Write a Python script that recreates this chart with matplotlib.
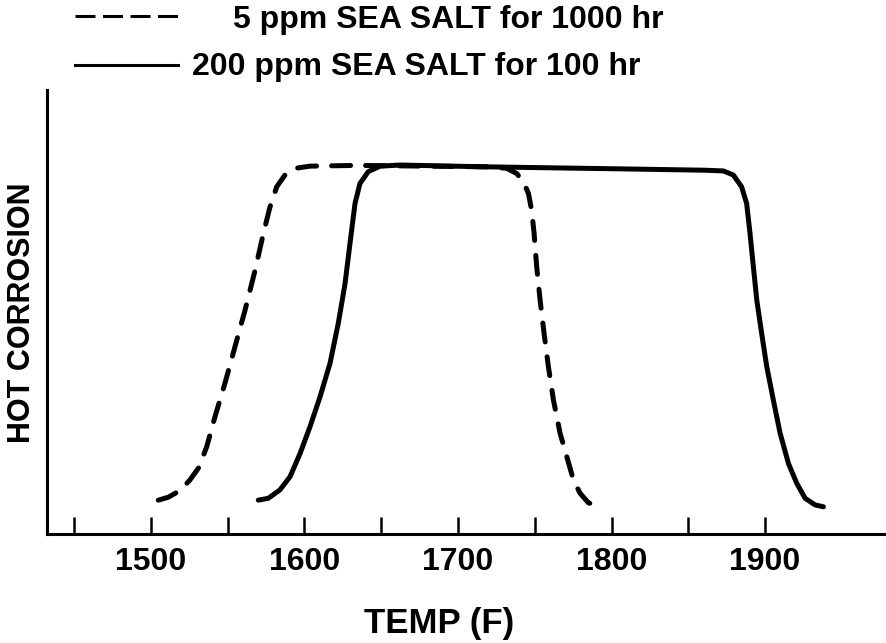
import matplotlib
matplotlib.use("Agg")
import matplotlib.pyplot as plt
from matplotlib.lines import Line2D

# ---- data ----
label_5ppm = "5 ppm SEA SALT for 1000 hr"
label_200ppm = "200 ppm SEA SALT for 100 hr"

temp_5ppm = [1504.9, 1511.4, 1519.0, 1525.5, 1531.0, 1536.4, 1541.8, 1548.3,
             1554.8, 1561.4, 1567.9, 1573.3, 1577.6, 1582.0, 1587.4, 1593.9,
             1603.7, 1634.1, 1680.0, 1720.9, 1731.8, 1738.3, 1742.6, 1745.9,
             1748.0, 1749.6, 1751.3, 1753.5, 1756.1, 1758.9, 1762.2, 1766.5,
             1770.9, 1775.2, 1779.5, 1784.9, 1794.7]
corr_5ppm = [9.2, 10.0, 11.8, 14.7, 17.9, 23.7, 31.9, 41.0,
             50.9, 60.9, 71.7, 81.7, 88.9, 94.4, 97.6, 99.4,
             100.0, 100.2, 100.0, 99.8, 99.4, 98.0, 95.7, 92.6,
             88.0, 81.7, 72.6, 63.6, 54.5, 45.5, 36.4, 27.4,
             21.0, 14.7, 11.1, 8.5, 7.0]

temp_200ppm = [1570.0, 1576.5, 1584.1, 1590.7, 1597.2, 1603.7, 1610.2, 1616.7,
               1622.1, 1626.5, 1629.7, 1633.0, 1636.2, 1641.6, 1649.3, 1662.3,
               1720.0, 1800.0, 1860.0, 1872.8, 1879.3, 1884.7, 1888.0, 1890.2,
               1892.4, 1894.6, 1897.8, 1901.1, 1905.4, 1909.8, 1915.2, 1920.6,
               1926.1, 1932.6, 1938.0]
corr_200ppm = [9.2, 9.7, 12.0, 15.6, 21.9, 29.2, 37.3, 46.4,
               57.3, 68.1, 79.0, 89.9, 95.3, 98.5, 100.0, 100.3,
               99.8, 99.3, 98.9, 98.7, 97.6, 94.4, 89.9, 81.7,
               72.6, 63.6, 54.5, 45.5, 36.4, 27.4, 19.2, 13.8,
               9.7, 7.9, 7.4]

major_ticks = [1500, 1600, 1700, 1800, 1900]
major_labels = ["1500", "1600", "1700", "1800", "1900"]
minor_ticks = [1450, 1550, 1650, 1750, 1850]

x_label = "TEMP (F)"
y_label = "HOT CORROSION"

# ---- styling ----
plt.rcParams["lines.scale_dashes"] = False
plt.rcParams["font.family"] = ["Liberation Sans", "DejaVu Sans"]
plt.rcParams["font.weight"] = "bold"

W, H = 887, 643
fig = plt.figure(figsize=(W / 100, H / 100), dpi=100)
ax = fig.add_axes([47 / W, (H - 534) / H, 838 / W, 444 / H])

ax.plot(temp_5ppm, corr_5ppm, color="black", lw=3.6,
        linestyle=(0, (13.7, 10.8)), dash_capstyle="round",
        dash_joinstyle="round", label=label_5ppm)
ax.plot(temp_200ppm, corr_200ppm, color="black", lw=3.6,
        solid_capstyle="round", solid_joinstyle="round", label=label_200ppm)

ax.set_xlim(1432.4, 1978.1)
ax.set_ylim(0, 120.7)

for s in ["top", "right"]:
    ax.spines[s].set_visible(False)
for s in ["left", "bottom"]:
    ax.spines[s].set_linewidth(2.2)

ax.set_xticks(major_ticks)
ax.set_xticklabels(major_labels, fontsize=23, fontweight="bold")
ax.set_xticks(minor_ticks, minor=True)
ax.tick_params(axis="x", which="both", direction="in", length=12.2, width=1.8, pad=9)
ax.set_yticks([])

ax.set_xlabel(x_label, fontsize=25, fontweight="bold", va="baseline")
ax.xaxis.set_label_coords((439 - 47) / 838, (534 - 633) / 444)
ax.set_ylabel(y_label, fontsize=22, fontweight="bold", va="center")
ax.yaxis.set_label_coords((22 - 47) / 838, (534 - 313) / 444)

# ---- legend drawn at top ----
fig.add_artist(Line2D([75 / W, 178 / W], [1 - 16 / H, 1 - 16 / H], color="black",
                      lw=2.2, linestyle=(0, (14.4, 5.4))))
fig.add_artist(Line2D([75 / W, 178 / W], [1 - 65 / H, 1 - 65 / H], color="black",
                      lw=2.2))
fig.text(233 / W, 1 - 28 / H, label_5ppm, fontsize=23, fontweight="bold",
         ha="left", va="baseline")
fig.text(192 / W, 1 - 75 / H, label_200ppm, fontsize=23, fontweight="bold",
         ha="left", va="baseline")

fig.savefig("out.png", dpi=100)
